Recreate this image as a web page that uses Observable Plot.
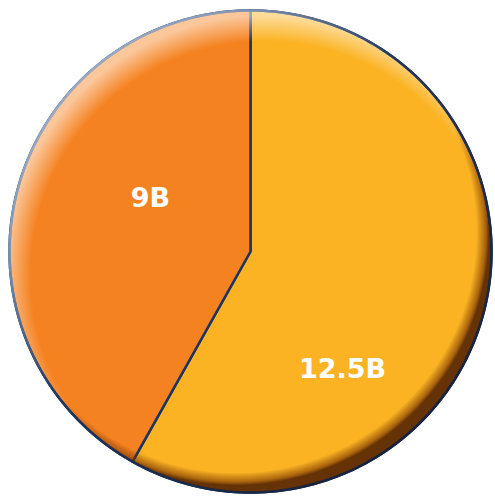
<!DOCTYPE html>
<html>
<head>
<meta charset="utf-8">
<script src="https://cdn.jsdelivr.net/npm/d3@7"></script>
<script src="https://cdn.jsdelivr.net/npm/@observablehq/plot@0.6"></script>
<style>
  html, body { margin: 0; padding: 0; background: #ffffff; }
  #chart { width: 495px; height: 503px; }
</style>
</head>
<body>
<div id="chart"></div>
<script>
// ---- data ----
const labels = ["12.5B", "9B"];
const values = [12.5, 9];
const colors = ["#FBB323", "#F58220"];

// ---- layout (not data) ----
const labelAngleDeg = [142, 298];   // clockwise from 12 o'clock
const labelRadius = [0.62, 0.47];   // fraction of pie radius

const STEPS = 240;
const pt = a => [Math.sin(a), -Math.cos(a)];

const arcs = d3.pie().sort(null)(values);
const sliceFeatures = arcs.map((a, i) => {
  const ring = [[0, 0]];
  const n = Math.max(2, Math.ceil((a.endAngle - a.startAngle) / (2 * Math.PI) * STEPS));
  for (let k = 0; k <= n; k++) ring.push(pt(a.startAngle + (a.endAngle - a.startAngle) * k / n));
  ring.push([0, 0]);
  return {type: "Feature", properties: {label: labels[i], color: colors[i]}, geometry: {type: "Polygon", coordinates: [ring]}};
});

const circleRing = d3.range(STEPS + 1).map(k => pt(2 * Math.PI * k / STEPS));
const circle = {type: "Feature", properties: {}, geometry: {type: "Polygon", coordinates: [circleRing]}};

const labelData = labels.map((l, i) => {
  const a = labelAngleDeg[i] * Math.PI / 180;
  const [x, y] = pt(a);
  return {label: l, x: x * labelRadius[i], y: y * labelRadius[i]};
});

const defs = () => {
  const d = d3.create("svg:defs");
  const sh = d.append("radialGradient").attr("id", "shadowGrad")
    .attr("cx", 0.47).attr("cy", 0.46).attr("r", 0.525);
  sh.append("stop").attr("offset", 0.95).attr("stop-color", "#6a2c00").attr("stop-opacity", 0);
  sh.append("stop").attr("offset", 0.985).attr("stop-color", "#7a3500").attr("stop-opacity", 0.6);
  sh.append("stop").attr("offset", 1).attr("stop-color", "#4a1c00").attr("stop-opacity", 0.85);
  const hl = d.append("radialGradient").attr("id", "hlGrad")
    .attr("cx", 0.53).attr("cy", 0.55).attr("r", 0.54);
  hl.append("stop").attr("offset", 0.9).attr("stop-color", "#ffffff").attr("stop-opacity", 0);
  hl.append("stop").attr("offset", 1).attr("stop-color", "#ffffff").attr("stop-opacity", 0.55);
  const bd = d.append("linearGradient").attr("id", "borderGrad")
    .attr("x1", 0).attr("y1", 0).attr("x2", 1).attr("y2", 1);
  bd.append("stop").attr("offset", 0.1).attr("stop-color", "#a6b4c8");
  bd.append("stop").attr("offset", 0.25).attr("stop-color", "#8092b0");
  bd.append("stop").attr("offset", 0.45).attr("stop-color", "#22355b");
  bd.append("stop").attr("offset", 1).attr("stop-color", "#121c36");
  return d.node();
};

const plot = Plot.plot({
  width: 495,
  height: 503,
  margin: 0,
  style: {background: "transparent"},
  projection: {
    type: "identity",
    domain: circle,
    insetLeft: 9, insetRight: 4, insetTop: 10, insetBottom: 11
  },
  marks: [
    defs,
    Plot.geo(sliceFeatures, {fill: d => d.properties.color, stroke: "#1b3461", strokeWidth: 2.5, strokeLinejoin: "round"}),
    Plot.geo([circle], {fill: "url(#shadowGrad)", stroke: "none"}),
    Plot.geo([circle], {fill: "url(#hlGrad)", stroke: "none"}),
    Plot.geo([circle], {fill: "none", stroke: "url(#borderGrad)", strokeWidth: 2.5}),
    Plot.text(labelData, {
      x: "x", y: "y", text: "label",
      fill: "#ffffff", fontSize: 27, fontWeight: 700,
      fontFamily: "'DejaVu Sans', sans-serif"
    })
  ]
});
document.getElementById("chart").appendChild(plot);
</script>
</body>
</html>
